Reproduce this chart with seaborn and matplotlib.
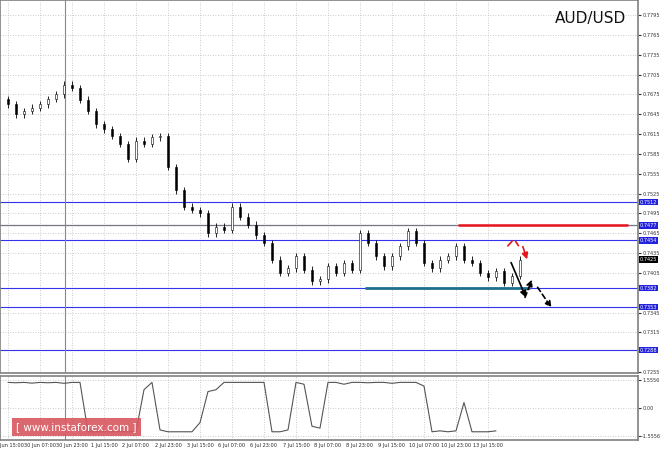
import numpy as np
import pandas as pd
import matplotlib
matplotlib.use("Agg")
import matplotlib.pyplot as plt
import seaborn as sns

closes = [0.7660,0.7645,0.7650,0.7655,0.7660,0.7668,0.7675,0.7690,0.7685,0.7667,
          0.7650,0.7630,0.7622,0.7612,0.7600,0.7578,0.7605,0.7600,0.7610,0.7612,
          0.7565,0.7530,0.7505,0.7500,0.7495,0.7465,0.7475,0.7470,0.7505,0.7490,
          0.7478,0.7462,0.7450,0.7425,0.7405,0.7412,0.7430,0.7410,0.7392,0.7395,
          0.7415,0.7405,0.7420,0.7410,0.7465,0.7450,0.7430,0.7415,0.7430,0.7445,
          0.7468,0.7450,0.7420,0.7412,0.7425,0.7430,0.7445,0.7425,0.7420,0.7405,
          0.7398,0.7408,0.7390,0.7400,0.7425]
indicator = [1.40,1.38,1.40,1.36,1.40,1.38,1.40,1.35,1.40,1.40,
             -1.30,-1.30,-1.30,-1.30,-1.30,-1.30,-1.30,1.00,1.40,-1.20,
             -1.30,-1.30,-1.30,-1.30,-0.80,0.90,1.00,1.40,1.40,1.40,
             1.40,1.40,1.40,-1.30,-1.30,-1.20,1.40,1.30,-1.00,-1.10,
             1.40,1.40,1.30,1.40,1.40,1.38,1.40,1.40,1.35,1.40,
             1.40,1.40,1.20,-1.30,-1.25,-1.30,-1.25,0.30,-1.30,-1.30,
             -1.30,-1.25]
xlabels = ["29 Jun 15:00","30 Jun 07:00","30 Jun 23:00","1 Jul 15:00","2 Jul 07:00",
           "2 Jul 23:00","3 Jul 15:00","6 Jul 07:00","6 Jul 23:00","7 Jul 15:00",
           "8 Jul 07:00","8 Jul 23:00","9 Jul 15:00","10 Jul 07:00","10 Jul 23:00","13 Jul 15:00"]
blue_levels = [0.7512, 0.7477, 0.7454, 0.7382, 0.7353, 0.7288]
resistance = 0.7477
support = 0.7382

W, H = 665, 450
sns.set_style("white")
fig = plt.figure(figsize=(W/100, H/100), dpi=100)

def px2x(p): return (p - 8) / 8.0
def py2p(y): return 0.7818 - y / 6607.0

ax = fig.add_axes([0, 1-373/H, 638/W, 373/H])
ax2 = fig.add_axes([0, 1-440/H, 638/W, 64/H])
for a in (ax, ax2):
    a.set_xlim(px2x(0), px2x(638))
    for s in a.spines.values():
        s.set_color("#808080"); s.set_linewidth(1.2)
    a.yaxis.tick_right()
    a.tick_params(axis="y", labelsize=3.6, length=2, pad=1, colors="#333333")
    a.grid(True, ls=(0, (1, 2)), color="#bbbbbb", lw=0.6)

ax.set_ylim(py2p(373), py2p(0))
n = len(closes)
idx = np.arange(n)
opens = [closes[0] + 0.0008] + closes[:-1]
for i in range(n):
    o, c = opens[i], closes[i]
    lo, hi = min(o, c), max(o, c)
    ax.vlines(i, lo - 0.0005, hi + 0.0005, color="black", lw=0.6, zorder=3)
    ax.bar(i, max(hi - lo, 0.00005), bottom=lo, width=0.35,
           color="white" if c >= o else "black", edgecolor="black", lw=0.4, zorder=4)

yt = [0.7255 + 0.003 * k for k in range(19)]
yt = [v for v in yt if min(abs(v - b) for b in blue_levels + [closes[-1]]) > 0.0007]
ax.set_yticks(yt)
ax.set_yticklabels([f"{v:.4f}" for v in yt])
ax.set_xticks(idx[::4][:16])
ax.set_xticklabels([])
ax2.set_xticks(idx[::4][:16])
ax2.set_xticklabels(xlabels, fontsize=3.6)
ax2.tick_params(axis="x", length=0, pad=2)

for lv in blue_levels:
    ax.axhline(lv, color="#3333ee", lw=0.8, zorder=2)
    ax.text(1.003, lv, f"{lv:.4f}", transform=ax.get_yaxis_transform(), fontsize=3.6,
            color="white", va="center", ha="left",
            bbox=dict(boxstyle="square,pad=0.15", fc="#2222dd", ec="none"), zorder=6, clip_on=False)
ax.text(1.003, closes[-1], f"{closes[-1]:.4f}", transform=ax.get_yaxis_transform(), fontsize=3.6,
        color="white", va="center", ha="left",
        bbox=dict(boxstyle="square,pad=0.15", fc="black", ec="none"), zorder=6, clip_on=False)
ax.axhline(resistance, color="#777777", lw=0.8, zorder=2)
ax.hlines(resistance, px2x(458), px2x(628), color="#e8141c", lw=1.8, zorder=5)
ax.hlines(support, px2x(365), px2x(530), color="#1f6f8f", lw=2, zorder=5)
ax.axvline(px2x(65), color="#888888", lw=0.8)
ax2.axvline(px2x(65), color="#888888", lw=0.8)

def arr(x0, y0, x1, y1, col, ls="-", head=True):
    ax.annotate("", xy=(px2x(x1), py2p(y1)), xytext=(px2x(x0), py2p(y0)),
                arrowprops=dict(arrowstyle="-|>" if head else "-", color=col, lw=1.2,
                                ls=ls, mutation_scale=9), zorder=7)
arr(506, 248, 514, 239, "#e8141c", head=False)
arr(514, 239, 520, 248, "#e8141c", head=False)
arr(522, 244, 528, 262, "#e8141c")
arr(510, 260, 527, 300, "black")
arr(524, 300, 533, 277, "black", ls=(0, (3, 2)))
arr(536, 285, 553, 310, "black", ls=(0, (3, 2)))

ax.text(626, 432, "AUD/USD", transform=None, fontsize=11, ha="right", va="center", color="#111111")

df = pd.DataFrame({"i": np.arange(len(indicator)), "v": indicator})
sns.lineplot(data=df, x="i", y="v", ax=ax2, color="#555555", lw=0.8)
ax2.set_ylim(-1.75, 1.75)
ax2.set_yticks([1.5556, 0.0, -1.5556])
ax2.set_yticklabels(["1.5556", "0.00", "-1.5556"])
ax2.set_xlabel(""); ax2.set_ylabel("")
ax2.text(0.025, 0.12, "[ www.instaforex.com ]", transform=ax2.transAxes, fontsize=7.5,
         color="white", va="bottom", ha="left",
         bbox=dict(boxstyle="square,pad=0.4", fc="#d9575f", ec="none", alpha=0.9), zorder=8)

fig.savefig("out.png", dpi=100)
